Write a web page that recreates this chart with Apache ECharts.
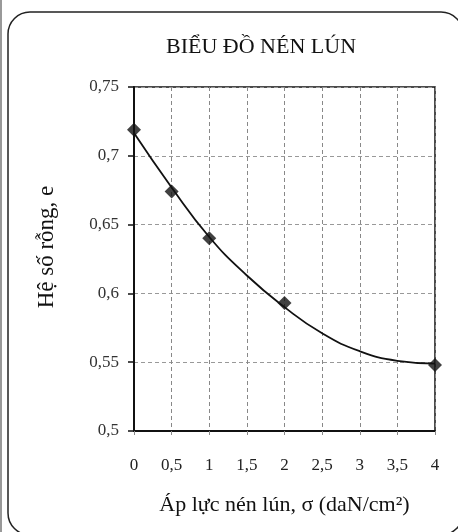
<!DOCTYPE html>
<html>
<head>
<meta charset="utf-8">
<script src="https://cdn.jsdelivr.net/npm/echarts@6/dist/echarts.min.js"></script>
<style>html,body{margin:0;padding:0;background:#fff}#c{width:458px;height:532px}</style>
</head>
<body>
<div id="c"></div>
<script>
var titleText = 'BIỂU ĐỒ NÉN LÚN';
var xName = 'Áp lực nén lún, σ (daN/cm²)';
var yName = 'Hệ số rỗng, e';
var pressure = [0, 0.5, 1, 2, 4];
var voidRatio = [0.719, 0.674, 0.640, 0.593, 0.548];
var trendX = [0, 0.5, 1, 1.5, 2, 2.5, 3, 3.5, 4];
var trendY = [0.7165, 0.677, 0.641, 0.613, 0.590, 0.571, 0.558, 0.551, 0.549];

var ff = '"Liberation Serif", "DejaVu Serif", serif';
var chart = echarts.init(document.getElementById('c'));
chart.setOption({
  animation: false,
  backgroundColor: '#fff',
  title: {
    text: titleText, left: 256, top: 31, textAlign: 'center',
    textStyle: {fontFamily: ff, fontSize: 22, fontWeight: 'normal', color: '#111'}
  },
  graphic: [
    {type: 'rect', shape: {x: 8, y: 12, width: 455, height: 523, r: 22},
     style: {fill: 'none', stroke: '#222', lineWidth: 1.5}},
    {type: 'line', shape: {x1: 1, y1: 0, x2: 1, y2: 532}, style: {stroke: '#777', lineWidth: 1.5}}
  ],
  grid: {left: 134, right: 23, top: 87, bottom: 101, show: true, borderColor: '#111', borderWidth: 1.5, backgroundColor: 'transparent'},
  xAxis: {
    type: 'value', min: 0, max: 4, interval: 0.5,
    name: xName, nameLocation: 'middle', nameGap: 63,
    nameTextStyle: {fontFamily: ff, fontSize: 22, color: '#111'},
    axisLine: {lineStyle: {color: '#111', width: 2}},
    axisTick: {show: true, length: 5, lineStyle: {color: '#888', type: 'dashed'}},
    axisLabel: {fontFamily: ff, fontSize: 17, color: '#222', margin: 26,
      formatter: function (v) { return String(v).replace('.', ','); }},
    splitLine: {show: true, lineStyle: {color: '#888', type: [4, 3], width: 1}}
  },
  yAxis: {
    type: 'value', min: 0.5, max: 0.75, interval: 0.05,
    name: yName, nameLocation: 'middle', nameGap: 76,
    nameTextStyle: {fontFamily: ff, fontSize: 23, color: '#111', padding: [0, 0, 0, 24]},
    axisLine: {lineStyle: {color: '#111', width: 2}},
    axisTick: {show: true, length: 6, lineStyle: {color: '#111', width: 1.5}},
    axisLabel: {fontFamily: ff, fontSize: 17, color: '#333', margin: 15,
      formatter: function (v) { return String(+v.toFixed(2)).replace('.', ','); }},
    splitLine: {show: true, lineStyle: {color: '#999', type: [4, 3], width: 1}}
  },
  series: [
    {
      type: 'line', data: trendX.map(function (x, i) { return [x, trendY[i]]; }),
      smooth: 0.5, showSymbol: false, symbol: 'none',
      lineStyle: {color: '#111', width: 1.8}, z: 2
    },
    {
      type: 'scatter', data: pressure.map(function (x, i) { return [x, voidRatio[i]]; }),
      symbol: 'diamond', symbolSize: 14, itemStyle: {color: '#111'}, z: 3
    }
  ]
});
</script>
</body>
</html>
